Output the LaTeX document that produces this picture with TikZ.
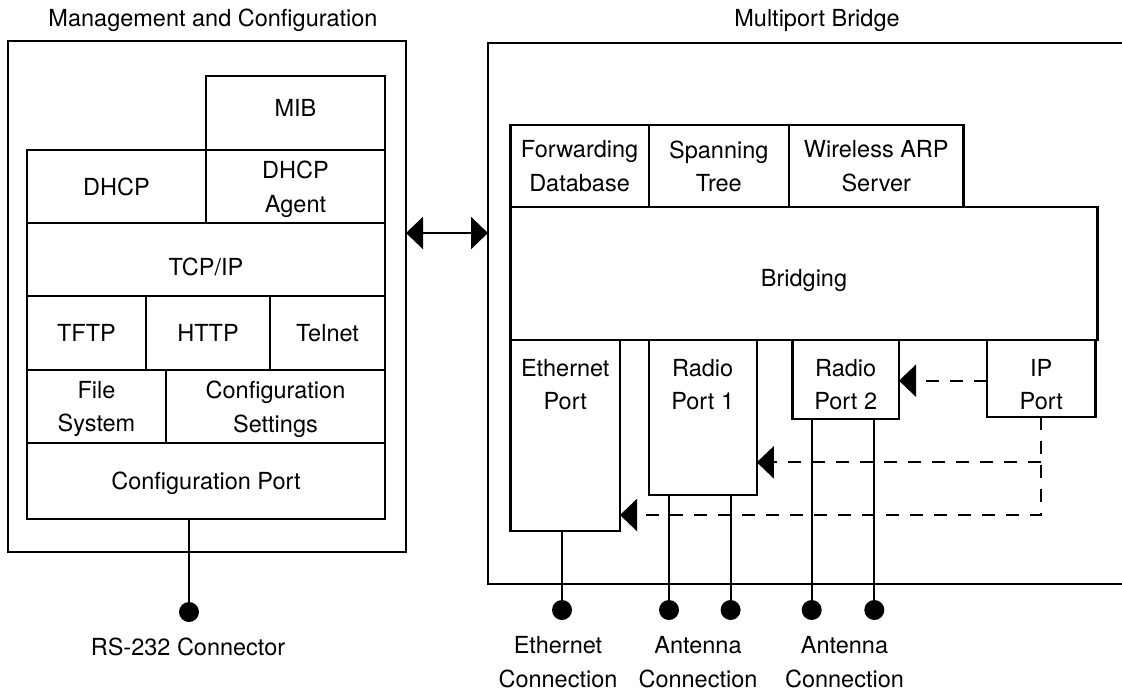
\documentclass[tikz,border=0pt]{standalone}
\usepackage{fontspec}
\setmainfont{TeX Gyre Heros}
\usetikzlibrary{arrows.meta}
\begin{document}
\begin{tikzpicture}[x=1pt,y=-1pt,
  every node/.style={font=\fontsize{23.5}{33.5}\selectfont},
  ln/.style={line width=2.2pt},
  box/.style={draw, line width=2.2pt, outer sep=0pt, inner sep=0pt, align=center, text depth=0pt},
  sz/.style 2 args={minimum width=#1pt, minimum height=#2pt},
  dot/.style={circle, fill, inner sep=0pt, minimum size=20pt},
  lbl/.style={align=center, inner sep=0pt},
  dsh/.style={line width=2.2pt, dash pattern=on 13pt off 11pt},
  tip/.style={-{Triangle[length=17pt,width=32pt]}},
  portlbl/.style={lbl, anchor=north, yshift=-19pt},
]
\useasboundingbox (0,0) rectangle (1122,691);

% ---------- Management and Configuration ----------
\node[lbl, anchor=base] (mgmttitle) at (213,26.7) {Management and Configuration};
\node[box, sz={398}{511}] (mgmt) at (207,296.5) {};
\node[box, sz={179}{74}, text depth=11pt] (mib) at (295.5,113) {MIB};
\node[box, sz={179}{73}] (dhcp) at (116.5,186.5) {DHCP};
\node[box, sz={179}{73}] (agent) at (295.5,186.5) {DHCP\\Agent};
\node[box, sz={358}{73}, text height=32pt] (tcpip) at (206,259.5) {TCP/IP};
\node[box, sz={119}{74}] (tftp) at (86.5,333) {TFTP};
\node[box, sz={124}{74}] (http) at (208,333) {HTTP};
\node[box, sz={115}{74}] (telnet) at (327.5,333) {Telnet};
\node[box, sz={139}{73}] (fs) at (96.5,406.5) {File\\System};
\node[box, sz={219}{73}] (cfgset) at (275.5,406.5) {Configuration\\Settings};
\node[box, sz={358}{76}] (cfgport) at (206,481) {Configuration Port};

\node[dot] (rs) at (189,612) {};
\draw[ln] (rs) -- (rs |- cfgport.south);
\node[lbl, anchor=base] (rslbl) at (188,655) {RS-232 Connector};

% ---------- Multiport Bridge ----------
\node[lbl, anchor=base] (brtitle) at (817,26) {Multiport Bridge};
\node[box, sz={662}{541}] (bridge) at (819,313.5) {};
\node[box, sz={138.1}{82}] (fdb) at (579.55,166) {Forwarding\\Database};
\node[box, sz={140.4}{82}] (stp) at (718.8,166) {Spanning\\Tree};
\node[box, sz={174.5}{82}] (arp) at (876.25,166) {Wireless ARP\\Server};
\node[box, sz={587}{133}, text height=26pt] (bridging) at (804,273.5) {Bridging};

\node[box, sz={109.5}{191}, label={[portlbl]north:Ethernet\\Port}] (eth) at (565.25,435.5) {};
\node[box, sz={108.2}{155}, label={[portlbl]north:Radio\\Port 1}] (rp1) at (702.7,417.5) {};
\node[box, sz={106.6}{79}, label={[portlbl]north:Radio\\Port 2}] (rp2) at (845.7,379.5) {};
\node[box, sz={108.5}{77}, label={[portlbl]north:IP\\Port}] (ipp) at (1041.25,378.5) {};

% main double arrow
\coordinate (ar) at (447,233);
\draw[ln, {Triangle[length=17pt,width=32pt]}-{Triangle[length=17pt,width=32pt]}] (ar -| mgmt.east) -- (ar -| bridge.west);

% dashed internal arrows
\coordinate (d0) at (940,380.7);
\coordinate (d1) at (1041.5,462.3);
\coordinate (d2) at (1041.5,515);
\draw[dsh, tip] (d0 -| ipp.west) -- (d0 -| rp2.east);
\draw[dsh, tip] (ipp.south) -- (ipp.south |- d2) -- (d2 -| eth.east);
\draw[dsh, tip] (ipp.south |- d1) -- (d1 -| rp1.east);

% connectors
\node[dot] (ethc) at (562,610) {};
\node[dot] (a1) at (669,610) {};
\node[dot] (a2) at (730.6,610) {};
\node[dot] (b1) at (811.7,610) {};
\node[dot] (b2) at (874.3,610) {};
\draw[ln] (ethc) -- (ethc |- eth.south);
\draw[ln] (a1) -- (a1 |- rp1.south);
\draw[ln] (a2) -- (a2 |- rp1.south);
\draw[ln] (b1) -- (b1 |- rp2.south);
\draw[ln] (b2) -- (b2 |- rp2.south);

\node[lbl, anchor=north] (ethlbl) at (558,636.5) {Ethernet\\Connection};
\node[lbl, anchor=north] (ant1) at (698,636.5) {Antenna\\Connection};
\node[lbl, anchor=north] (ant2) at (844.5,636.5) {Antenna\\Connection};
\end{tikzpicture}
\end{document}
